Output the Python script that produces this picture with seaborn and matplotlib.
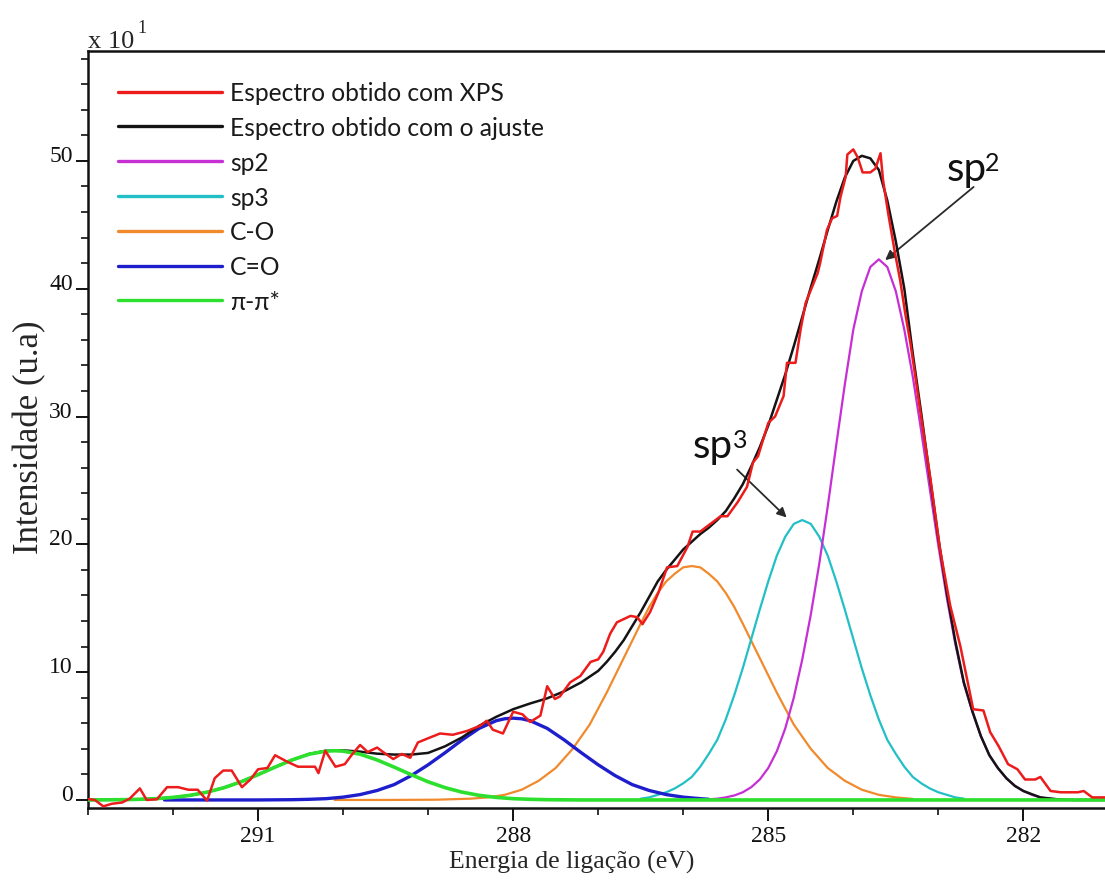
import matplotlib
matplotlib.use("Agg")
import matplotlib.pyplot as plt
from matplotlib.lines import Line2D
from matplotlib.ticker import MultipleLocator
from matplotlib.font_manager import FontProperties
import seaborn as sns

# ---- measured XPS C1s spectrum (binding energy in eV, intensity in units of 10) ----
xps_energy = [
    293.04, 292.92, 292.82, 292.72, 292.60, 292.51, 292.39, 292.31, 292.19, 292.07,
    291.94, 291.82, 291.71, 291.60, 291.51, 291.41, 291.31, 291.19, 291.09, 291.00,
    290.89, 290.80, 290.66, 290.53, 290.33, 290.29, 290.21, 290.09, 289.98, 289.89,
    289.80, 289.71, 289.60, 289.53, 289.41, 289.31, 289.21, 289.12, 289.01, 288.86,
    288.71, 288.54, 288.39, 288.31, 288.24, 288.12, 288.00, 287.89, 287.80, 287.68,
    287.60, 287.51, 287.45, 287.33, 287.21, 287.09, 287.00, 286.94, 286.86, 286.78,
    286.62, 286.54, 286.48, 286.39, 286.29, 286.19, 286.07, 285.95, 285.89, 285.80,
    285.68, 285.56, 285.48, 285.36, 285.25, 285.18, 285.12, 285.00, 284.92, 284.82,
    284.78, 284.68, 284.62, 284.56, 284.42, 284.39, 284.31, 284.25, 284.19, 284.15,
    284.09, 284.07, 284.00, 283.95, 283.89, 283.80, 283.74, 283.68, 283.65, 283.59,
    283.51, 283.45, 283.39, 283.33, 283.27, 283.21, 283.09, 282.98, 282.86, 282.74,
    282.59, 282.47, 282.39, 282.29, 282.18, 282.07, 281.98, 281.86, 281.80, 281.68,
    281.56, 281.36, 281.29, 281.19, 281.04, 280.90]
xps_intensity = [
    0.1, 0.0, -0.5, -0.3, -0.2, 0.1, 0.9, 0.0, 0.05, 1.0,
    1.0, 0.8, 0.8, -0.05, 1.7, 2.3, 2.3, 1.0, 1.6, 2.4,
    2.5, 3.5, 3.0, 2.6, 2.6, 2.1, 3.85, 2.6, 2.8, 3.6,
    4.3, 3.75, 4.1, 3.75, 3.2, 3.6, 3.3, 4.5, 4.8, 5.2,
    5.1, 5.4, 5.8, 6.2, 5.5, 5.2, 6.9, 6.7, 6.1, 6.6,
    8.9, 7.9, 8.1, 9.2, 9.7, 10.8, 11.0, 11.6, 13.0, 13.9,
    14.4, 14.3, 13.75, 14.7, 16.25, 18.2, 18.3, 19.8, 21.0, 21.0,
    21.6, 22.2, 22.2, 23.3, 24.5, 26.4, 26.9, 29.5, 30.0, 31.6,
    34.2, 34.2, 36.8, 38.9, 41.2, 42.0, 44.6, 45.5, 45.7, 47.2,
    48.75, 50.5, 50.9, 50.3, 49.1, 49.1, 49.4, 50.6, 48.5, 45.9,
    42.8, 40.7, 38.1, 35.8, 33.1, 30.3, 25.0, 19.6, 15.2, 12.0,
    7.1, 7.0, 5.3, 4.2, 2.8, 2.4, 1.6, 1.6, 1.8, 0.7,
    0.6, 0.6, 0.7, 0.2, 0.2, 0.2]

# ---- fitted envelope ----
fit_energy = [
    293.0, 292.8, 292.6, 292.4, 292.2, 292.0, 291.8, 291.6, 291.4, 291.2,
    291.0, 290.8, 290.6, 290.4, 290.2, 290.0, 289.8, 289.6, 289.4, 289.2,
    289.0, 288.8, 288.6, 288.4, 288.2, 288.0, 287.8, 287.6, 287.4, 287.2,
    287.0, 286.9, 286.8, 286.7, 286.6, 286.5, 286.4, 286.3, 286.2, 286.1,
    286.0, 285.9, 285.8, 285.7, 285.6, 285.5, 285.4, 285.3, 285.2, 285.1,
    285.0, 284.9, 284.8, 284.7, 284.6, 284.5, 284.4, 284.3, 284.2, 284.1,
    284.0, 283.9, 283.8, 283.7, 283.6, 283.5, 283.4, 283.3, 283.2, 283.1,
    283.0, 282.9, 282.8, 282.7, 282.6, 282.5, 282.4, 282.3, 282.2, 282.1,
    282.0, 281.8, 281.6, 281.4, 281.2, 281.0]
fit_intensity = [
    0.0, 0.01, 0.02, 0.05, 0.1, 0.2, 0.36, 0.61, 0.96, 1.42,
    1.98, 2.57, 3.13, 3.6, 3.85, 3.88, 3.78, 3.62, 3.55, 3.55,
    3.68, 4.2, 4.9, 5.8, 6.5, 7.1, 7.55, 7.95, 8.5, 9.2,
    10.1, 10.8, 11.6, 12.5, 13.6, 14.7, 15.9, 17.1, 18.0, 18.8,
    19.6, 20.2, 20.8, 21.3, 21.9, 22.6, 23.6, 24.7, 26.1, 27.6,
    29.3, 31.3, 33.3, 35.5, 37.8, 40.1, 42.3, 44.6, 46.8, 48.7,
    50.0, 50.4, 50.2, 49.3, 46.9, 43.7, 40.0, 34.9, 30.2, 25.3,
    20.5, 16.2, 12.4, 9.2, 6.95, 5.0, 3.5, 2.5, 1.7, 1.1,
    0.7, 0.2, 0.05, 0.0, 0.0, 0.0]

# ---- fitted components ----
sp2_energy = [
    285.7, 285.6, 285.5, 285.4, 285.3, 285.2, 285.1, 285.0, 284.9, 284.8,
    284.7, 284.6, 284.5, 284.4, 284.3, 284.2, 284.1, 284.0, 283.9, 283.8,
    283.7, 283.6, 283.5, 283.4, 283.3, 283.2, 283.1, 283.0, 282.9, 282.8,
    282.7, 282.6, 282.5, 282.4, 282.3, 282.2, 282.1, 282.0, 281.9, 281.8,
    281.7, 281.6]
sp2_intensity = [
    0.05, 0.1, 0.2, 0.35, 0.6, 1.0, 1.6, 2.5, 3.8, 5.6,
    8.0, 11.0, 14.5, 18.5, 23.0, 27.8, 32.5, 36.8, 39.8, 41.7,
    42.3, 41.7, 39.8, 36.8, 33.1, 28.8, 24.3, 19.9, 15.8, 12.2,
    9.1, 6.9, 5.0, 3.5, 2.5, 1.7, 1.1, 0.7, 0.4, 0.2,
    0.1, 0.05]

sp3_energy = [
    286.5, 286.4, 286.3, 286.2, 286.1, 286.0, 285.9, 285.8, 285.7, 285.6,
    285.5, 285.4, 285.3, 285.2, 285.1, 285.0, 284.9, 284.8, 284.7, 284.6,
    284.5, 284.4, 284.3, 284.2, 284.1, 284.0, 283.9, 283.8, 283.7, 283.6,
    283.5, 283.4, 283.3, 283.2, 283.1, 283.0, 282.9, 282.8, 282.7]
sp3_intensity = [
    0.1, 0.2, 0.4, 0.6, 0.9, 1.3, 1.8, 2.6, 3.6, 4.7,
    6.3, 8.2, 10.3, 12.6, 14.9, 17.1, 19.1, 20.6, 21.6, 21.9,
    21.6, 20.6, 19.1, 17.1, 14.9, 12.6, 10.3, 8.2, 6.3, 4.7,
    3.6, 2.6, 1.8, 1.3, 0.9, 0.6, 0.4, 0.2, 0.1]

co_energy = [
    290.1, 289.5, 288.9, 288.5, 288.3, 288.1, 287.9, 287.7, 287.5, 287.3,
    287.1, 286.9, 286.7, 286.5, 286.4, 286.3, 286.2, 286.1, 286.0, 285.9,
    285.8, 285.7, 285.6, 285.5, 285.4, 285.3, 285.1, 284.9, 284.7, 284.5,
    284.3, 284.1, 283.9, 283.7, 283.5, 283.3]
co_intensity = [
    0.0, 0.0, 0.02, 0.1, 0.2, 0.4, 0.8, 1.5, 2.5, 4.0,
    5.9, 8.4, 11.1, 13.8, 15.1, 16.2, 17.1, 17.7, 18.2, 18.3,
    18.2, 17.7, 17.1, 16.2, 15.1, 13.8, 11.1, 8.4, 5.9, 4.0,
    2.5, 1.5, 0.8, 0.4, 0.2, 0.08]

c_eq_o_energy = [
    292.1, 291.0, 290.6, 290.4, 290.2, 290.0, 289.8, 289.6, 289.4, 289.2,
    289.0, 288.8, 288.6, 288.4, 288.2, 288.1, 288.0, 287.9, 287.8, 287.6,
    287.4, 287.2, 287.0, 286.8, 286.6, 286.4, 286.2, 286.0, 285.8, 285.7]
c_eq_o_intensity = [
    0.0, 0.0, 0.02, 0.05, 0.1, 0.22, 0.42, 0.74, 1.2, 1.9,
    2.75, 3.7, 4.7, 5.6, 6.2, 6.35, 6.4, 6.35, 6.2, 5.6,
    4.7, 3.7, 2.75, 1.9, 1.2, 0.74, 0.42, 0.22, 0.1, 0.05]

pi_energy = [
    293.0, 292.6, 292.4, 292.2, 292.0, 291.8, 291.6, 291.4, 291.2, 291.0,
    290.8, 290.6, 290.4, 290.2, 290.1, 290.0, 289.8, 289.6, 289.4, 289.2,
    289.0, 288.8, 288.6, 288.4, 288.2, 288.0, 287.8, 287.6, 287.2, 281.0]
pi_intensity = [
    0.0, 0.02, 0.05, 0.1, 0.2, 0.36, 0.61, 0.96, 1.42, 1.98,
    2.57, 3.13, 3.58, 3.82, 3.85, 3.82, 3.58, 3.13, 2.57, 1.98,
    1.42, 0.96, 0.61, 0.36, 0.2, 0.1, 0.05, 0.02, 0.0, 0.0]

labels = ["Espectro obtido com XPS", "Espectro obtido com o ajuste",
          "sp2", "sp3", "C-O", "C=O", "\u03c0-\u03c0*"]
colors = ["#ec1c1c", "#141414", "#c52fd4", "#22c0c6", "#f08a2c", "#1e1ecc", "#2ee02e"]

x_major_ticks = [291, 288, 285, 282]
y_major_ticks = [0, 10, 20, 30, 40, 50]

sns.set_style("ticks")
serif = ["Liberation Serif", "DejaVu Serif"]
sans = ["Lato", "Open Sans", "DejaVu Sans"]
plt.rcParams["font.family"] = serif

W, H = 1105, 895
fig = plt.figure(figsize=(W / 100, H / 100), dpi=100)
ax_left, ax_top, ax_bottom = 88, 52, 809
ax = fig.add_axes([ax_left / W, 1 - ax_bottom / H, 1 - ax_left / W, (ax_bottom - ax_top) / H])

# components first, envelope and measurement on top
layers = [
    (co_energy, co_intensity, colors[4], 1.6, 2),
    (sp3_energy, sp3_intensity, colors[3], 1.6, 2),
    (sp2_energy, sp2_intensity, colors[2], 1.6, 2),
    (c_eq_o_energy, c_eq_o_intensity, colors[5], 2.4, 3),
    (fit_energy, fit_intensity, colors[1], 1.8, 4),
    (pi_energy, pi_intensity, colors[6], 2.6, 5),
    (xps_energy, xps_intensity, colors[0], 1.8, 6),
]
for xs, ys, c, lw, z in layers:
    sns.lineplot(x=xs, y=ys, ax=ax, color=c, linewidth=lw, sort=False,
                 estimator=None, legend=False, zorder=z)

ax.set_xlim(293.0, 281.04)
ax.set_ylim(-0.63, 58.6)
ax.set_xticks(x_major_ticks)
ax.set_yticks(y_major_ticks)
ax.xaxis.set_minor_locator(MultipleLocator(1))
ax.yaxis.set_minor_locator(MultipleLocator(2))
ax.tick_params(which="major", direction="out", length=9, width=1.4, labelsize=17,
               pad=2, colors="#111111")
ax.tick_params(which="minor", direction="out", length=5, width=1.2, colors="#111111")
ax.tick_params(axis="x", which="major", pad=3)
for lab in ax.get_yticklabels():
    lab.set_verticalalignment("baseline")

for side in ["left", "bottom", "top"]:
    ax.spines[side].set_visible(True)
    ax.spines[side].set_linewidth(1.8)
    ax.spines[side].set_color("#111111")
ax.spines["right"].set_visible(False)

ax.set_xlabel("Energia de ligação (eV)", fontsize=18.5, va="center")
ax.xaxis.set_label_coords(0.476, -0.070)
ax.set_ylabel("Intensidade (u.a)", fontsize=25, va="center")
ax.yaxis.set_label_coords(-0.057, 0.491)

# scale factor above the y axis
fig.text(ax_left / W, 1 - 48 / H, "x 10", fontsize=19, ha="left", va="baseline")
fig.text(137 / W, 1 - 33 / H, "1", fontsize=13, ha="left", va="baseline")

handles = [Line2D([], [], color=c, lw=2.4) for c in colors]
leg = ax.legend(handles, labels, loc="upper left", bbox_to_anchor=(0.0295, 0.960),
                frameon=False, borderaxespad=0, borderpad=0, handlelength=4.23,
                handletextpad=0.33, labelspacing=0.48,
                prop=FontProperties(family=sans, size=17.7))
for t in leg.get_texts():
    t.set_color("#1a1a1a")

# peak annotations
ann_font = FontProperties(family=sans, size=29)
sup_font = FontProperties(family=sans, size=18)
arrow_style = dict(arrowstyle="-|>", color="#2a2a2a", lw=1.3, mutation_scale=14)

ax.annotate("", xy=(283.65, 42.1), xytext=(282.56, 48.1), arrowprops=arrow_style)
ax.text(282.90, 48.5, "sp", fontproperties=ann_font, ha="left", va="baseline", color="#111111")
ax.text(282.45, 49.3, "2", fontproperties=sup_font, ha="left", va="baseline", color="#111111")

ax.annotate("", xy=(284.76, 21.95), xytext=(285.39, 26.0), arrowprops=arrow_style)
ax.text(285.89, 26.8, "sp", fontproperties=ann_font, ha="left", va="baseline", color="#111111")
ax.text(285.42, 27.6, "3", fontproperties=sup_font, ha="left", va="baseline", color="#111111")

fig.savefig("out.png", dpi=100)
